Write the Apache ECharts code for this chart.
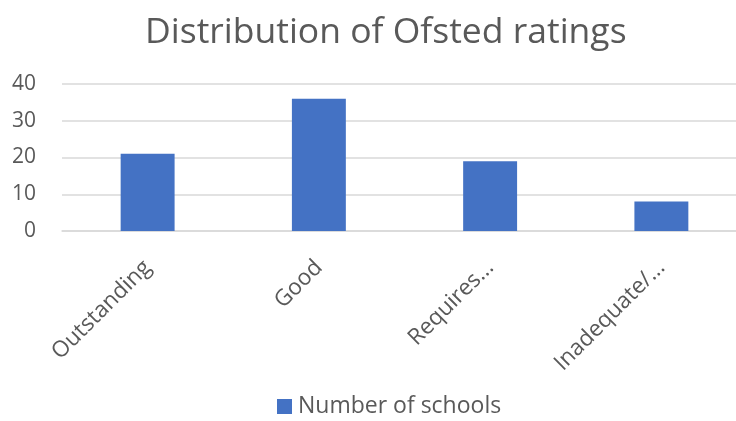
<!DOCTYPE html>
<html>
<head>
<meta charset="utf-8">
<script src="https://cdn.jsdelivr.net/npm/echarts@6/dist/echarts.min.js"></script>
<style>html,body{margin:0;padding:0;background:#fff;}#chart{width:736px;height:421px;}</style>
</head>
<body>
<div id="chart"></div>
<script>
var titleText = 'Distribution of Ofsted ratings';
var categories = ['Outstanding', 'Good', 'Requires...', 'Inadequate/...'];
var seriesName = 'Number of schools';
var values = [21, 36, 19, 8];
var yTicks = [0, 10, 20, 30, 40];

var chart = echarts.init(document.getElementById('chart'), null, {renderer: 'canvas'});
var font = '"Open Sans", sans-serif';
chart.setOption({
  animation: false,
  backgroundColor: '#ffffff',
  title: {
    text: titleText,
    left: 140,
    top: 10,
    textStyle: {fontFamily: font, fontSize: 35.5, fontWeight: 'normal', color: '#595959'}
  },
  legend: {
    data: [seriesName],
    bottom: -2,
    left: 272,
    icon: 'rect',
    itemWidth: 15,
    itemHeight: 15,
    itemGap: 6,
    textStyle: {fontFamily: font, fontSize: 23, color: '#595959', padding: [0, 0, 0, 1]}
  },
  grid: {left: 62, width: 685, top: 84, bottom: 190, outerBoundsMode: 'none', containLabel: false},
  xAxis: {
    type: 'category',
    data: categories,
    axisLine: {show: true, lineStyle: {color: '#d9d9d9', width: 1.5}},
    axisTick: {show: false},
    axisLabel: {rotate: 45, margin: 33, interval: 0, fontFamily: font, fontSize: 22.5, color: '#595959'}
  },
  yAxis: {
    type: 'value',
    min: yTicks[0],
    max: yTicks[yTicks.length - 1],
    interval: yTicks[1] - yTicks[0],
    axisLine: {show: false},
    axisTick: {show: false},
    splitLine: {lineStyle: {color: '#d9d9d9', width: 1.5}},
    axisLabel: {margin: 26, fontFamily: font, fontSize: 21, color: '#595959'}
  },
  series: [{
    name: seriesName,
    type: 'bar',
    data: values,
    barWidth: '31.5%',
    itemStyle: {color: '#4472C4'}
  }]
});
</script>
</body>
</html>
